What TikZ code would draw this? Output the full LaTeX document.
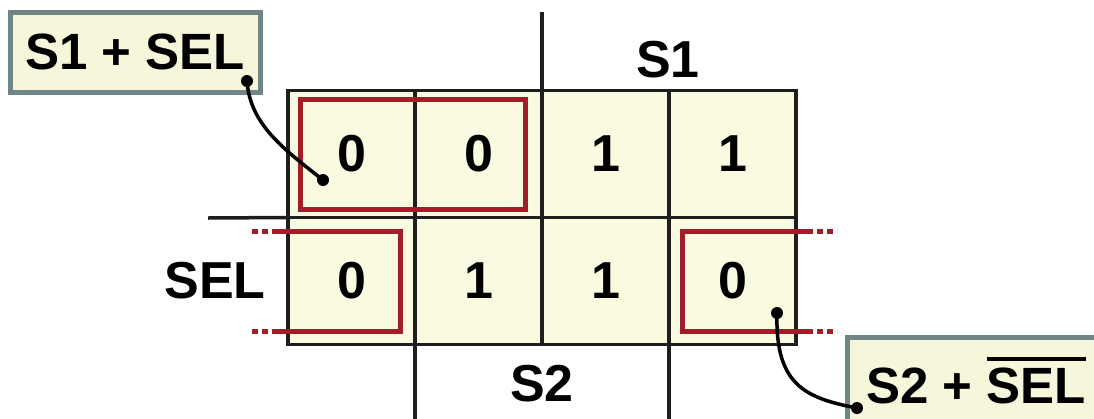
\documentclass[tikz,border=0pt]{standalone}
\usepackage{fontspec}
\setmainfont{Liberation Sans}
\definecolor{cellfill}{RGB}{250,250,224}
\definecolor{callfill}{RGB}{246,246,218}
\definecolor{callborder}{RGB}{112,134,134}
\definecolor{kred}{RGB}{160,30,40}
\definecolor{gridc}{RGB}{30,30,30}
\newcommand{\mybar}[1]{\vbox{\hrule height 4pt\kern 6pt\hbox{#1}}}
\begin{document}
\begin{tikzpicture}[x=1pt,y=-1pt,
  big/.style={font=\fontsize{52}{60}\selectfont\bfseries},
  cell/.style={draw=gridc,line width=3.5pt,fill=cellfill,minimum width=127pt,minimum height=127pt,inner sep=0pt,outer sep=0pt,big},
  callout/.style={draw=callborder,line width=5pt,fill=callfill,inner sep=0pt,font=\fontsize{51}{60}\selectfont\bfseries},
  grp/.style={draw=kred,line width=5pt},
  grpdot/.style={draw=kred,line width=5pt,dash pattern=on 6pt off 4pt},
  axis/.style={draw=gridc,line width=3.5pt},
  lead/.style={draw=black,line width=3.5pt},
  dot/.style={circle,fill=black,inner sep=0pt,minimum size=12pt}]
\useasboundingbox (0,0) rectangle (1094,418);
\clip (0,0) rectangle (1094,418);
% cells
\node[cell] (c11) at (351.5,154) {0};
\node[cell] (c12) at (478.5,154) {0};
\node[cell] (c13) at (605.5,154) {1};
\node[cell] (c14) at (732.5,154) {1};
\node[cell] (c21) at (351.5,281) {0};
\node[cell] (c22) at (478.5,281) {1};
\node[cell] (c23) at (605.5,281) {1};
\node[cell] (c24) at (732.5,281) {0};
% axis lines
\coordinate (s1top) at (542,12);
\draw[axis] (c12.north east) -- (s1top);
\coordinate (s2a) at (415,420);
\coordinate (s2b) at (669,420);
\draw[axis] (c21.south east) -- (s2a);
\draw[axis] (c23.south east) -- (s2b);
\coordinate (selL) at (208,218);
\draw[axis] (c11.south west) -- (selL);
% labels
\node[big,anchor=base] (lS1) at (668,77) {S1};
\node[big,anchor=base] (lS2) at (542,401) {S2};
\node[big,anchor=base] (lSEL) at (215,298) {SEL};
% groups
\draw[grp] (300,99) rectangle (525,209);
\draw[grp] (277,231) -- (400,231) -- (400,331) -- (277,331);
\draw[grpdot] (252,231) -- (277,231);
\draw[grpdot] (252,331) -- (277,331);
\draw[grp] (807,231) -- (682,231) -- (682,331) -- (807,331);
\draw[grpdot] (807,231) -- (837,231);
\draw[grpdot] (807,331) -- (837,331);
% callouts
\node[callout,minimum width=250pt,minimum height=80pt] (k1) at (135,52) {S1 + SEL};
\node[callout,minimum width=258pt,minimum height=86pt,anchor=base] (k2) at (976,403) {S2 + \mybar{SEL}};
% leaders
\coordinate (a1) at (247,81);
\coordinate (b1) at (323,180);
\draw[lead] (a1) .. controls (250,125) and (285,150) .. (b1);
\node[dot] (da1) at (a1) {};
\node[dot] (db1) at (b1) {};
\coordinate (a2) at (777,313);
\coordinate (b2) at (857,408);
\draw[lead] (a2) .. controls (775,385) and (805,398) .. (b2);
\node[dot] (da2) at (a2) {};
\node[dot] (db2) at (b2) {};
\end{tikzpicture}
\end{document}
